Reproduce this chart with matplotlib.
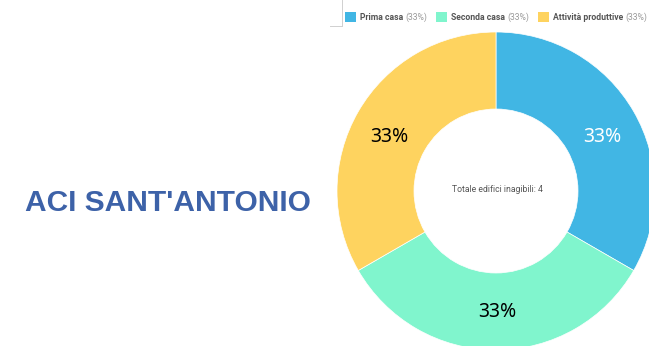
import matplotlib
matplotlib.use("Agg")
import matplotlib.pyplot as plt
from matplotlib.patches import Rectangle

categories = ["Prima casa", "Seconda casa", "Attività produttive"]
values = [1, 1, 1]
pct_labels = ["33%", "33%", "33%"]
colors = ["#41b6e4", "#80f5cd", "#fed35f"]
label_colors = ["white", "black", "black"]
title = "ACI SANT'ANTONIO"
center_text = "Totale edifici inagibili: 4"

W, H = 649, 346
fig = plt.figure(figsize=(W / 100, H / 100), dpi=100)
ax = fig.add_axes([0, 0, 1, 1])
ax.axis("off")

# coordinates in pixels, measured from the top edge
def Y(y):
    return H - y

cx, cy, r_out, r_in = 496, 191, 159, 82
width = r_out - r_in

wedges, texts = ax.pie(values, colors=colors, startangle=90, counterclock=False,
                       radius=r_out, center=(cx, Y(cy)),
                       wedgeprops=dict(width=width, edgecolor="white", linewidth=0.5),
                       labels=pct_labels, labeldistance=(r_in + r_out) / 2 / r_out,
                       textprops=dict(fontsize=14, family="Noto Sans", ha="center", va="center"))
ax.set_xlim(0, W)
ax.set_ylim(0, H)
ax.set_aspect("equal")
# nudge the percentage labels slightly, as the chart library places them
label_dx = [2, 1, -2]
label_dy = [6, 1, 6]
for t, c, dx, dy in zip(texts, label_colors, label_dx, label_dy):
    t.set_color(c)
    x, y = t.get_position()
    t.set_position((x + dx, y - dy))

ax.text(cx + 1, Y(cy - 1), center_text, ha="center", va="center", fontsize=6.2,
        family="Roboto", color="#555555")

ax.text(168, Y(203), title, ha="center", va="center", fontsize=21.5,
        family="Liberation Sans", fontweight="bold", color="#3d62a8")

# legend strip
ax.plot([342, 342], [Y(0), Y(26)], color="#d0d0d0", lw=0.7)
ax.plot([330, 342], [Y(26), Y(26)], color="#d0d0d0", lw=0.7)
legend_x = [345, 436, 538]
for x0, name, col, pct in zip(legend_x, categories, colors, pct_labels):
    ax.add_patch(Rectangle((x0, Y(22)), 11, 10, facecolor=col, edgecolor="none"))
    t = ax.text(x0 + 15, Y(17), name, ha="left", va="center", fontsize=6.2,
                family="Roboto", fontweight="bold", color="#555555")
    fig.canvas.draw()
    bb = t.get_window_extent()
    x_end = ax.transData.inverted().transform((bb.x1, bb.y0))[0]
    ax.text(x_end + 2, Y(17), f"({pct})", ha="left", va="center", fontsize=6.2,
            family="Roboto", color="#999999")

fig.savefig("out.png", dpi=100)
